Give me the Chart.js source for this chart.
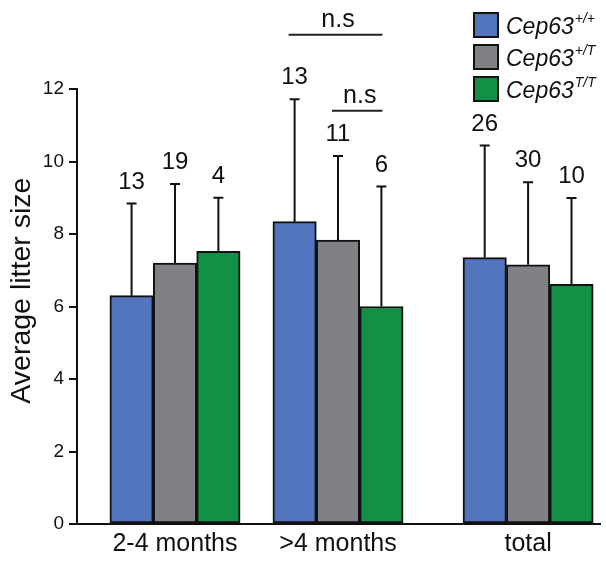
<!DOCTYPE html>
<html>
<head>
<meta charset="utf-8">
<script src="https://cdn.jsdelivr.net/npm/chart.js@4.4.1/dist/chart.umd.min.js"></script>
<style>
  html, body { margin: 0; padding: 0; background: #fff; }
</style>
</head>
<body>
<canvas id="myChart" width="606" height="562"></canvas>
<script>
// data
const categories = ['2-4 months', '>4 months', 'total'];
const gene = 'Cep63';
const genotypes = ['+/+', '+/T', 'T/T'];
const wtMean = [6.30, 8.34, 7.35];
const hetMean = [7.20, 7.83, 7.15];
const homMean = [7.52, 6.00, 6.61];
const wtSd = [2.54, 3.38, 3.09];
const hetSd = [2.18, 2.32, 2.28];
const homSd = [1.48, 3.31, 2.38];
const wtN = [13, 13, 26];
const hetN = [19, 11, 30];
const homN = [4, 6, 10];
const yTicks = [0, 2, 4, 6, 8, 10, 12];
// n.s. comparisons within the >4 months group (dataset indexes), bracket height in y units
const nsPairs = [
    { group: 1, from: 0, to: 2, at: 13.5 },
    { group: 1, from: 1, to: 2, at: 11.4 }
];

const FONT = "'Liberation Sans', Arial, Helvetica, sans-serif";
const colors = ['#5375bd', '#808184', '#149046'];
const means = [wtMean, hetMean, homMean];
const sds = [wtSd, hetSd, homSd];
const counts = [wtN, hetN, homN];

// the "total" group sits a bit further away from the others
const totalGap = 0.166;
const slots = categories.map((c, i) => i + (i === categories.length - 1 ? totalGap : 0));

const errorBars = {
    id: 'errorBars',
    afterDatasetsDraw(chart) {
        const ctx = chart.ctx;
        const y = chart.scales.y;
        ctx.save();
        ctx.strokeStyle = '#111';
        ctx.fillStyle = '#111';
        ctx.lineWidth = 2;
        ctx.font = '24px ' + FONT;
        ctx.textAlign = 'center';
        ctx.textBaseline = 'alphabetic';
        chart.data.datasets.forEach((ds, d) => {
            chart.getDatasetMeta(d).data.forEach((bar, i) => {
                const top = y.getPixelForValue(means[d][i] + sds[d][i]);
                ctx.beginPath();
                ctx.moveTo(bar.x, bar.y);
                ctx.lineTo(bar.x, top);
                ctx.moveTo(bar.x - 5, top);
                ctx.lineTo(bar.x + 5, top);
                ctx.stroke();
                ctx.fillText(String(counts[d][i]), bar.x, top - 15);
            });
        });
        ctx.restore();
    }
};

const nsBrackets = {
    id: 'nsBrackets',
    afterDatasetsDraw(chart) {
        const ctx = chart.ctx;
        const y = chart.scales.y;
        ctx.save();
        ctx.strokeStyle = '#222';
        ctx.fillStyle = '#111';
        ctx.lineWidth = 2;
        ctx.font = '25px ' + FONT;
        ctx.textAlign = 'center';
        nsPairs.forEach(p => {
            const x1 = chart.getDatasetMeta(p.from).data[p.group].x;
            const x2 = chart.getDatasetMeta(p.to).data[p.group].x;
            const py = y.getPixelForValue(p.at);
            ctx.beginPath();
            ctx.moveTo(x1 - 6, py);
            ctx.lineTo(x2 + 1, py);
            ctx.stroke();
            ctx.fillText('n.s', (x1 + x2) / 2, py - 8);
        });
        ctx.restore();
    }
};

const genoLegend = {
    id: 'genoLegend',
    afterDraw(chart) {
        const ctx = chart.ctx;
        ctx.save();
        chart.data.datasets.forEach((ds, i) => {
            const bx = 474, by = 13 + i * 32, size = 24;
            ctx.fillStyle = ds.backgroundColor;
            ctx.fillRect(bx, by, size, size);
            ctx.strokeStyle = '#111';
            ctx.lineWidth = 2;
            ctx.strokeRect(bx, by, size, size);
            ctx.fillStyle = '#111';
            ctx.textBaseline = 'alphabetic';
            ctx.textAlign = 'left';
            ctx.font = 'italic 23px ' + FONT;
            ctx.fillText(gene, 506, by + 21);
            const w = ctx.measureText(gene).width;
            ctx.font = 'italic 14px ' + FONT;
            ctx.fillText(genotypes[i], 506 + w + 1, by + 10);
        });
        ctx.restore();
    }
};

const ctx = document.getElementById('myChart').getContext('2d');
const myChart = new Chart(ctx, {
    type: 'bar',
    data: {
        datasets: genotypes.map((g, d) => ({
            label: gene + g,
            data: slots.map((x, i) => ({ x: x, y: means[d][i] })),
            backgroundColor: colors[d],
            borderColor: '#111',
            borderWidth: 2,
            borderSkipped: false,
            barThickness: 43.4
        }))
    },
    options: {
        responsive: false,
        animation: false,
        devicePixelRatio: 1,
        layout: { padding: { top: 89, right: 6, left: 0, bottom: 0 } },
        plugins: {
            legend: { display: false },
            tooltip: { enabled: false }
        },
        scales: {
            x: {
                type: 'linear',
                offset: false,
                bounds: 'data',
                min: -0.601,
                max: 2.607,
                afterBuildTicks: s => { s.ticks = slots.map(v => ({ value: v })); },
                afterFit: s => { s.height = 38; },
                ticks: {
                    callback: (v, i) => categories[i],
                    autoSkip: false,
                    maxRotation: 0,
                    padding: 5,
                    color: '#111',
                    font: { family: FONT, size: 25 }
                },
                grid: { display: false, drawTicks: false, offset: false },
                border: { display: true, color: '#111', width: 2 }
            },
            y: {
                min: 0,
                max: 12,
                afterBuildTicks: s => { s.ticks = yTicks.map(v => ({ value: v })); },
                afterFit: s => { s.width = 77; },
                ticks: {
                    padding: 5,
                    color: '#111',
                    font: { family: FONT, size: 19 }
                },
                grid: {
                    display: true,
                    drawOnChartArea: false,
                    drawTicks: true,
                    tickLength: 8,
                    color: '#111',
                    lineWidth: 2
                },
                border: { display: true, color: '#111', width: 2 },
                title: {
                    display: true,
                    // leading spaces nudge the label up the axis like in the original
                    text: '    Average litter size',
                    color: '#111',
                    font: { family: FONT, size: 28.5 },
                    padding: { top: 5, bottom: 0 }
                }
            }
        }
    },
    plugins: [errorBars, nsBrackets, genoLegend]
});
</script>
</body>
</html>
